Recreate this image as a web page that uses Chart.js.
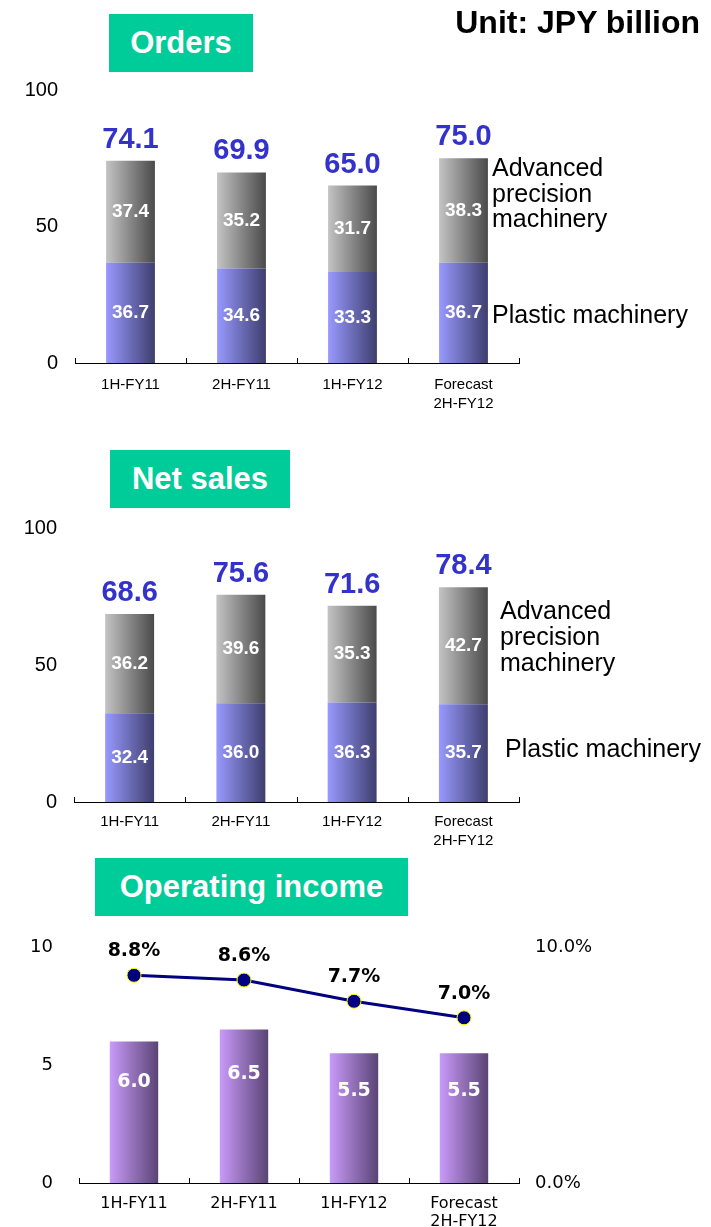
<!DOCTYPE html>
<html>
<head>
<meta charset="utf-8">
<script src="https://cdn.jsdelivr.net/npm/chart.js@4.4.1/dist/chart.umd.min.js"></script>
<style>
    body { margin: 0; background: #fff; width: 711px; height: 1227px; position: relative; overflow: hidden; font-family: "Liberation Sans", Arial, sans-serif; }
    canvas { position: absolute; left: 0; }
    .box { position: absolute; background: #00CC99; color: #fff; font-weight: bold; font-size: 31px; display: flex; align-items: center; justify-content: center; z-index: 2; }
    .side { position: absolute; font-size: 25px; line-height: 25.5px; color: #000; z-index: 2; white-space: nowrap; }
    .unit { position: absolute; right: 11px; top: 6px; font-size: 32px; line-height: 32px; font-weight: bold; color: #000; z-index: 2; }
</style>
</head>
<body>
<div class="unit">Unit: JPY billion</div>

<div class="box" style="left:109px;top:14px;width:144px;height:58px;">Orders</div>
<div class="side" style="left:492px;top:155px;">Advanced<br>precision<br>machinery</div>
<div class="side" style="left:492px;top:302px;">Plastic machinery</div>
<canvas id="ordersChart" width="711" height="440" style="top:0px;"></canvas>

<div class="box" style="left:110px;top:450px;width:180px;height:58px;">Net sales</div>
<div class="side" style="left:500px;top:597px;line-height:26px;">Advanced<br>precision<br>machinery</div>
<div class="side" style="left:505px;top:736px;">Plastic machinery</div>
<canvas id="salesChart" width="711" height="420" style="top:440px;"></canvas>

<div class="box" style="left:95px;top:858px;width:313px;height:58px;">Operating income</div>
<canvas id="incomeChart" width="711" height="317" style="top:910px;"></canvas>

<script>
// values (JPY billion)
const periods = ['1H-FY11', '2H-FY11', '1H-FY12', ['Forecast', '2H-FY12']];

const ordersPlastic = [36.7, 34.6, 33.3, 36.7];
const ordersPrecision = [37.4, 35.2, 31.7, 38.3];
const ordersTotal = [74.1, 69.9, 65.0, 75.0];

const salesPlastic = [32.4, 36.0, 36.3, 35.7];
const salesPrecision = [36.2, 39.6, 35.3, 42.7];
const salesTotal = [68.6, 75.6, 71.6, 78.4];

const opIncome = [6.0, 6.5, 5.5, 5.5];
const opMargin = [8.8, 8.6, 7.7, 7.0];

const amountTicks = { min: 0, max: 100, step: 50 };
const incomeTicks = { min: 0, max: 10, step: 5 };
const marginTicks = { min: 0, max: 10, step: 10 };

const BAR_PCT = 0.44;
const ARIAL = '"Liberation Sans", Arial, sans-serif';
const VERDANA = '"DejaVu Sans", Verdana, sans-serif';

function barGradient(from, to) {
    return function (context) {
        let chart = context.chart;
        if (!chart.chartArea || context.dataIndex === undefined) {
            return from;
        }
        let xs = chart.scales.x;
        let cx = xs.getPixelForValue(context.dataIndex);
        let half = xs.width / periods.length * BAR_PCT / 2;
        let g = chart.ctx.createLinearGradient(cx - half, 0, cx + half, 0);
        g.addColorStop(0, from);
        g.addColorStop(1, to);
        return g;
    };
}

// small inward tick marks on the category boundaries
const axisTicks = {
    id: 'axisTicks',
    afterDraw(chart) {
        let xs = chart.scales.x;
        let ctx = chart.ctx;
        let n = periods.length;
        ctx.save();
        ctx.strokeStyle = '#000';
        ctx.lineWidth = 1;
        ctx.beginPath();
        for (let i = 0; i <= n; i++) {
            let x = Math.round(xs.left + i * xs.width / n) + 0.5;
            ctx.moveTo(x, xs.top);
            ctx.lineTo(x, xs.top - 5);
        }
        ctx.stroke();
        ctx.restore();
    }
};

function valueLabels(items) {
    return {
        id: 'valueLabels',
        afterDatasetsDraw(chart) {
            let ctx = chart.ctx;
            ctx.save();
            ctx.textAlign = 'center';
            items.forEach(item => {
                let meta = chart.getDatasetMeta(item.dataset);
                ctx.font = item.font;
                ctx.fillStyle = item.color;
                meta.data.forEach((el, i) => {
                    let text = item.text(i);
                    let y;
                    if (item.pos === 'center') {
                        ctx.textBaseline = 'middle';
                        y = (el.y + el.base) / 2;
                    } else if (item.pos === 'inside') {
                        ctx.textBaseline = 'middle';
                        y = el.base - (el.base - el.y) * 0.71;
                    } else if (item.pos === 'point') {
                        ctx.textBaseline = 'middle';
                        y = el.y - 24;
                    } else {
                        ctx.textBaseline = 'alphabetic';
                        y = el.y - 13;
                    }
                    ctx.fillText(text, el.x, y);
                });
            });
            ctx.restore();
        }
    };
}

function stackedChart(canvasId, plastic, precision, totals, padTop, padBottom, yWidth, xHeight, xPad) {
    return new Chart(document.getElementById(canvasId), {
        type: 'bar',
        data: {
            labels: periods,
            datasets: [{
                label: 'Plastic machinery',
                data: plastic,
                backgroundColor: barGradient('#9999FF', '#3E3E6E'),
                borderWidth: 0,
                barPercentage: BAR_PCT,
                categoryPercentage: 1
            }, {
                label: 'Advanced precision machinery',
                data: precision,
                backgroundColor: barGradient('#C4C4C4', '#4A4A4A'),
                borderWidth: 0,
                barPercentage: BAR_PCT,
                categoryPercentage: 1
            }]
        },
        options: {
            responsive: false,
            animation: false,
            layout: { padding: { top: padTop, right: 192, bottom: padBottom, left: 0 } },
            plugins: { legend: { display: false }, tooltip: { enabled: false } },
            scales: {
                x: {
                    stacked: true,
                    grid: { display: false, drawTicks: false },
                    border: { display: true, color: '#000', width: 1 },
                    ticks: { color: '#000', padding: xPad, font: { family: ARIAL, size: 15, lineHeight: 1.27 } },
                    afterFit: scale => { scale.height = xHeight; }
                },
                y: {
                    stacked: true,
                    min: amountTicks.min,
                    max: amountTicks.max,
                    grid: { display: false, drawTicks: false },
                    border: { display: false },
                    ticks: { stepSize: amountTicks.step, color: '#000', padding: 17, font: { family: ARIAL, size: 20 } },
                    afterFit: scale => { scale.width = yWidth; }
                }
            }
        },
        plugins: [axisTicks, valueLabels([
            { dataset: 0, pos: 'center', font: `bold 19px ${ARIAL}`, color: '#fff', text: i => plastic[i].toFixed(1) },
            { dataset: 1, pos: 'center', font: `bold 19px ${ARIAL}`, color: '#fff', text: i => precision[i].toFixed(1) },
            { dataset: 1, pos: 'top', font: `bold 29px ${ARIAL}`, color: '#3333CC', text: i => totals[i].toFixed(1) }
        ])]
    });
}

stackedChart('ordersChart', ordersPlastic, ordersPrecision, ordersTotal, 90, 7, 75, 70, 12.5);
stackedChart('salesChart', salesPlastic, salesPrecision, salesTotal, 88, 8, 74, 50, 10.5);

new Chart(document.getElementById('incomeChart'), {
    type: 'bar',
    data: {
        labels: periods,
        datasets: [{
            type: 'line',
            label: 'Operating margin',
            data: opMargin,
            yAxisID: 'y2',
            order: 0,
            borderColor: '#000080',
            borderWidth: 3,
            pointRadius: 7,
            pointBackgroundColor: '#000080',
            pointBorderColor: '#FFFF00',
            pointBorderWidth: 1,
            tension: 0
        }, {
            label: 'Operating income',
            data: opIncome,
            yAxisID: 'y',
            order: 1,
            backgroundColor: barGradient('#C99AFA', '#5A4474'),
            borderWidth: 0,
            barPercentage: BAR_PCT,
            categoryPercentage: 1
        }]
    },
    options: {
        responsive: false,
        animation: false,
        layout: { padding: { top: 37, right: 0, bottom: 0, left: 0 } },
        plugins: { legend: { display: false }, tooltip: { enabled: false } },
        scales: {
            x: {
                grid: { display: false, drawTicks: false },
                border: { display: true, color: '#000', width: 1 },
                ticks: { color: '#000', padding: 12, font: { family: VERDANA, size: 16, lineHeight: 1.125 } },
                afterFit: scale => { scale.height = 44; }
            },
            y: {
                position: 'left',
                min: incomeTicks.min,
                max: incomeTicks.max,
                grid: { display: false, drawTicks: false },
                border: { display: false },
                ticks: { stepSize: incomeTicks.step, color: '#000', padding: 26, font: { family: VERDANA, size: 18 } },
                afterFit: scale => { scale.width = 79; }
            },
            y2: {
                position: 'right',
                min: marginTicks.min,
                max: marginTicks.max,
                grid: { display: false, drawTicks: false },
                border: { display: false },
                ticks: {
                    stepSize: marginTicks.step,
                    color: '#000',
                    padding: 16,
                    font: { family: VERDANA, size: 18 },
                    callback: v => v.toFixed(1) + '%'
                },
                afterFit: scale => { scale.width = 192; }
            }
        }
    },
    plugins: [axisTicks, valueLabels([
        { dataset: 1, pos: 'inside', font: `bold 19px ${VERDANA}`, color: '#fff', text: i => opIncome[i].toFixed(1) },
        { dataset: 0, pos: 'point', font: `bold 19px ${VERDANA}`, color: '#000', text: i => opMargin[i].toFixed(1) + '%' }
    ])]
});
</script>
</body>
</html>
